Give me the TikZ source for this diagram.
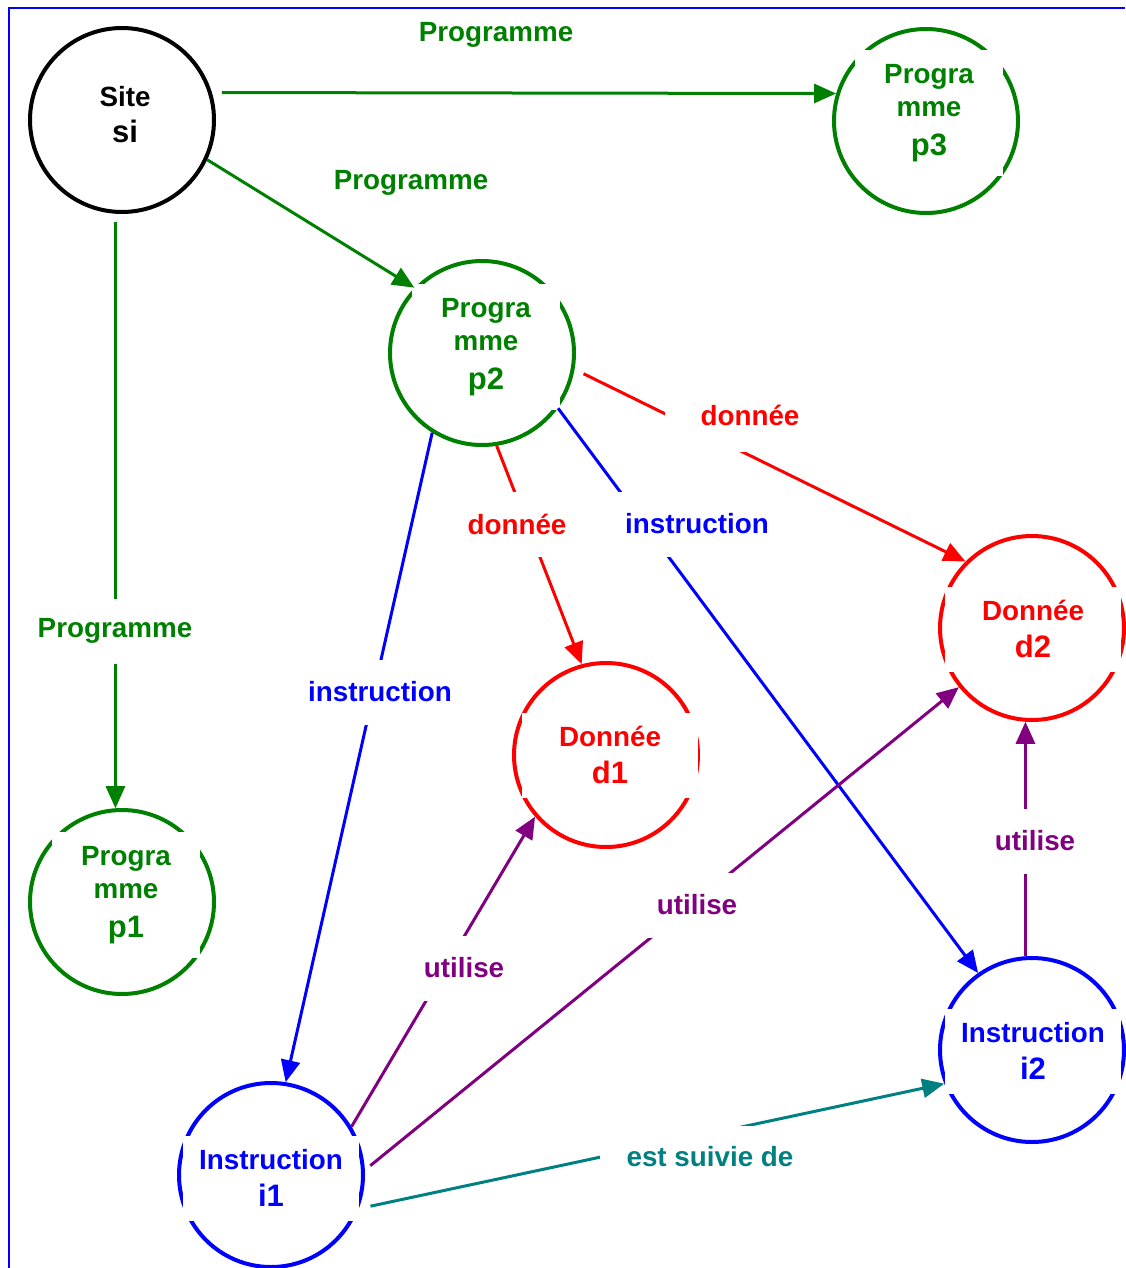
\documentclass[tikz,border=0pt]{standalone}
\usepackage{fontspec}
\setmainfont{Liberation Sans}
\usetikzlibrary{arrows.meta}
\definecolor{proggreen}{HTML}{008000}
\definecolor{datared}{HTML}{FF0000}
\definecolor{instrblue}{HTML}{0000FF}
\definecolor{usepurple}{HTML}{800080}
\definecolor{nextteal}{HTML}{008080}
\newcommand{\bigline}[1]{{\fontsize{15.5}{18.6}\selectfont #1}}
\tikzset{
  entity/.style={circle,draw,line width=2pt,minimum size=92pt,inner sep=0pt},
  entity text/.style={fill=white,align=center,inner sep=0pt,
    font=\fontsize{13.9}{16.5}\selectfont\bfseries},
  prog text/.style={entity text,text=proggreen,minimum width=74pt,minimum height=63pt},
  item text/.style={entity text,minimum width=88pt,minimum height=42.5pt},
  link/.style={line width=1.5pt,-{Triangle[length=11pt,width=9.5pt]}},
  link label/.style={fill=white,inner xsep=6pt,inner ysep=0pt,minimum height=32.5pt,
    font=\fontsize{13.9}{16.5}\selectfont\bfseries}
}
\begin{document}
\begin{tikzpicture}[x=0.5pt,y=-0.5pt]
  \useasboundingbox (0,0) rectangle (1125,1268);
  % circles
  \node[entity,draw=black] (si) at (122,120) {};
  \node[entity,draw=proggreen] (p3) at (926,121) {};
  \node[entity,draw=proggreen] (p2) at (482,353) {};
  \node[entity,draw=proggreen] (p1) at (122,902) {};
  \node[entity,draw=datared] (d1) at (606,755) {};
  \node[entity,draw=datared] (d2) at (1032,628) {};
  \node[entity,draw=instrblue] (i1) at (271,1175) {};
  \node[entity,draw=instrblue] (i2) at (1032,1050) {};
  % texts inside
  \node[entity text,fill=none] (sitxt) at (125,115) {Site\\[1.5pt]\bigline{si}};
  \node[prog text] (p3txt) at (929,113) {Progra\\mme\\[3pt]\bigline{p3}};
  \node[prog text] (p2txt) at (486,347) {Progra\\mme\\[3pt]\bigline{p2}};
  \node[prog text] (p1txt) at (126,895) {Progra\\mme\\[3pt]\bigline{p1}};
  \node[item text,text=datared] (d1txt) at (610,755) {Donnée\\[2pt]\bigline{d1}};
  \node[item text,text=datared] (d2txt) at (1033,629) {Donnée\\[2pt]\bigline{d2}};
  \node[item text,text=instrblue] (i1txt) at (271,1178) {Instruction\\[2pt]\bigline{i1}};
  \node[item text,text=instrblue] (i2txt) at (1033,1051) {Instruction\\[2pt]\bigline{i2}};
  % connectors
  \draw[link,proggreen,shorten <=5pt] (si.17) -- (p3.163);
  \draw[link,proggreen] (si.-25) -- (p2.136);
  \draw[link,proggreen,shorten <=4pt] (si.-94) -- (p1.94);
  \draw[link,datared,shorten <=5pt] (p2.-10) -- (d2.135);
  \draw[link,datared] (p2.-81) -- (d1.105);
  \draw[link,instrblue] (p2.-122) -- (i1.81);
  \draw[link,instrblue] (p2.-36) -- (i2.125);
  \draw[link,usepurple] (i2.94) -- (d2.-94);
  \draw[link,usepurple] (i1.31) -- (d1.-139);
  \draw[link,usepurple,shorten <=3.5pt] (i1.3) -- (d2.-141);
  \draw[link,nextteal,shorten <=6pt] (i1.-21) -- (i2.-159);
  % labels
  \node[link label,text=proggreen,minimum height=0pt] (lbp3) at (496,35) {Programme};
  \node[link label,text=proggreen] (lbp2) at (411,183) {Programme};
  \node[link label,text=proggreen] (lbp1) at (115,631) {Programme};
  \node[link label,text=datared,minimum width=85pt,minimum height=37pt] (lbd2) at (750,415) {donnée};
  \node[link label,text=datared] (lbd1) at (517,524) {donnée};
  \node[link label,text=instrblue] (lbi1) at (380,692) {instruction};
  \node[link label,text=instrblue] (lbi2) at (697,524) {instruction};
  \node[link label,text=usepurple] (lbu2) at (1035,841) {utilise};
  \node[link label,text=usepurple] (lbu1) at (464,968) {utilise};
  \node[link label,text=usepurple] (lbu3) at (697,905) {utilise};
  \node[link label,text=nextteal,minimum width=110pt,minimum height=31pt] (lbnext) at (710,1157) {est suivie de};
  % frame
  \draw[instrblue,line width=0.8pt] (9,1268) -- (9,8) -- (1125,8);
\end{tikzpicture}
\end{document}
